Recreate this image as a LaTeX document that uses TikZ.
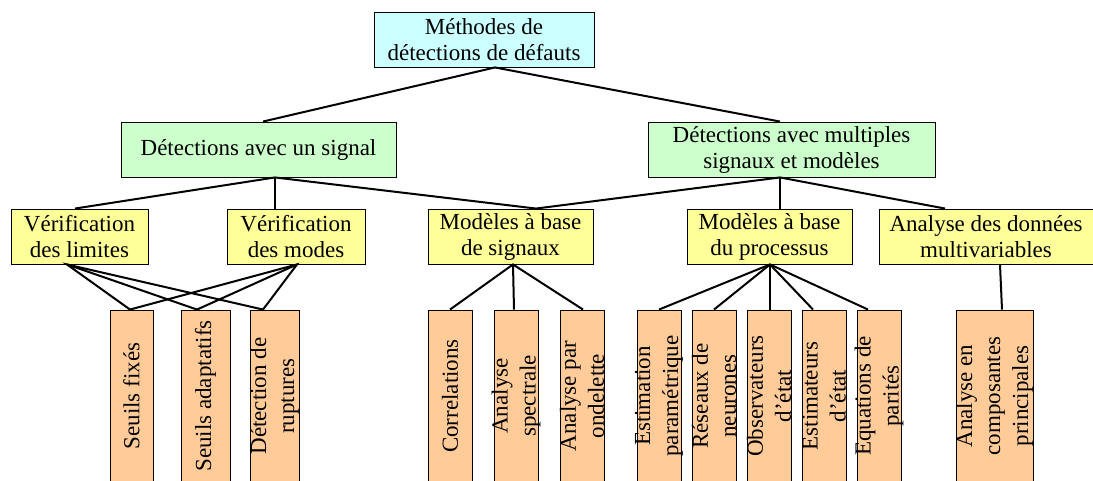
\documentclass[tikz,border=0pt]{standalone}
\usepackage{fontspec}
\setmainfont{Liberation Serif}
\usepackage{xcolor}

\definecolor{rootcol}{HTML}{CCFFFF}
\definecolor{grpcol}{HTML}{CCFFCC}
\definecolor{famcol}{HTML}{FFFF99}
\definecolor{leafcol}{HTML}{FFCC99}

\begin{document}
\begin{tikzpicture}[x=1pt, y=-1pt, line width=2pt,
        font=\fontsize{23}{26}\selectfont,
        box/.style = {draw, line width=0.9pt, align=center, inner sep=0pt, minimum height=55pt},
        root/.style = {box, fill=rootcol},
        grp/.style = {box, fill=grpcol},
        fam/.style = {box, fill=famcol},
        leaf/.style = {draw, line width=0.9pt, fill=leafcol, inner sep=0pt, minimum height=172pt},
        leaftext/.style = {rotate=90, align=center, inner sep=0pt, font=\fontsize{23}{28}\selectfont}]
        \useasboundingbox (0,0) rectangle (1093,480);

        % top levels
        \node[root, minimum width=220pt] (M) at (484,39.5) {Méthodes de\\détections de défauts};
        \node[grp, minimum width=275pt] (D1) at (258.5,149.5) {Détections avec un signal};
        \node[grp, minimum width=287pt] (D2) at (791.5,149.5) {Détections avec multiples\\signaux et modèles};

        \node[fam, minimum width=137pt] (V1) at (79.5,236.5) {Vérification\\des limites};
        \node[fam, minimum width=138pt] (V2) at (296,236.5) {Vérification\\des modes};
        \node[fam, minimum width=165pt] (MS) at (510.5,236.5) {Modèles à base\\de signaux};
        \node[fam, minimum width=165pt] (MP) at (769.5,236.5) {Modèles à base\\du processus};
        \node[fam, minimum width=214pt] (AD) at (986,236.5) {Analyse des données\\multivariables};

        % leaves
        \node[leaf, minimum width=43pt] (L1) at (131.5,396) {};
        \node[leaf, minimum width=49pt] (L2) at (205.5,396) {};
        \node[leaf, minimum width=49pt] (L3) at (274.5,396) {};
        \node[leaf, minimum width=44pt] (L4) at (450,396) {};
        \node[leaf, minimum width=44pt] (L5) at (516,396) {};
        \node[leaf, minimum width=44pt] (L6) at (582,396) {};
        \node[leaf, minimum width=44pt] (L7) at (659,396) {};
        \node[leaf, minimum width=44pt] (L8) at (714,396) {};
        \node[leaf, minimum width=44pt] (L9) at (769,396) {};
        \node[leaf, minimum width=44pt] (L10) at (824,396) {};
        \node[leaf, minimum width=44pt] (L11) at (879,396) {};
        \node[leaf, minimum width=77pt] (L12) at (994.5,396) {};

        \node[leaftext] (T1) at (L1) {Seuils fixés};
        \node[leaftext] (T2) at (L2) {Seuils adaptatifs};
        \node[leaftext] (T3) at (L3) {Détection de\\ruptures};
        \node[leaftext] (T4) at (L4) {Correlations};
        \node[leaftext] (T5) at (L5) {Analyse\\spectrale};
        \node[leaftext] (T6) at (L6) {Analyse par\\ondelette};
        \node[leaftext] (T7) at (L7) {Estimation\\paramétrique};
        \node[leaftext] (T8) at (L8) {Réseaux de\\neurones};
        \node[leaftext] (T9) at (L9) {Observateurs\\d\symbol{39}état};
        \node[leaftext] (T10) at (L10) {Estimateurs\\d\symbol{39}état};
        \node[leaftext] (T11) at (L11) {Equations de\\parités};
        \node[leaftext] (T12) at (L12) {Analyse en\\composantes\\principales};

        % links
        \draw ([xshift=4.5]D1.north) -- ([xshift=11]M.south) -- ([xshift=-11.5]D2.north);

        \draw ([xshift=-4.5]V1.north) -- ([xshift=16.5]D1.south) -- ([xshift=25.5]MS.north);
        \draw ([xshift=16.5]D1.south) -- ([xshift=-21]V2.north);
        \draw ([xshift=25.5]MS.north) -- ([xshift=-11.5]D2.south) -- ([xshift=-41]AD.north);
        \draw ([xshift=-11.5]D2.south) -- ([xshift=10.5]MP.north);

        \draw ([xshift=-1.5]L1.north) -- ([xshift=-12.5]V1.south) -- ([xshift=-11.5]L3.north);
        \draw ([xshift=-12.5]V1.south) -- ([xshift=-8.5]L2.north);
        \draw ([xshift=-1.5]L1.north) -- ([xshift=1]V2.south) -- ([xshift=-11.5]L3.north);
        \draw ([xshift=1]V2.south) -- ([xshift=-8.5]L2.north);

        \draw (L4.north) -- ([xshift=2.5]MS.south) -- ([xshift=1]L6.north);
        \draw ([xshift=2.5]MS.south) -- ([xshift=-2]L5.north);

        \draw (L7.north) -- ([xshift=0.5]MP.south) -- ([xshift=-11]L11.north);
        \draw ([xshift=0.5]MP.south) -- (L8.north);
        \draw ([xshift=0.5]MP.south) -- ([xshift=1]L9.north);
        \draw ([xshift=0.5]MP.south) -- ([xshift=-11]L10.north);

        \draw ([xshift=14]AD.south) -- ([xshift=7.5]L12.north);
    \end{tikzpicture}
\end{document}
